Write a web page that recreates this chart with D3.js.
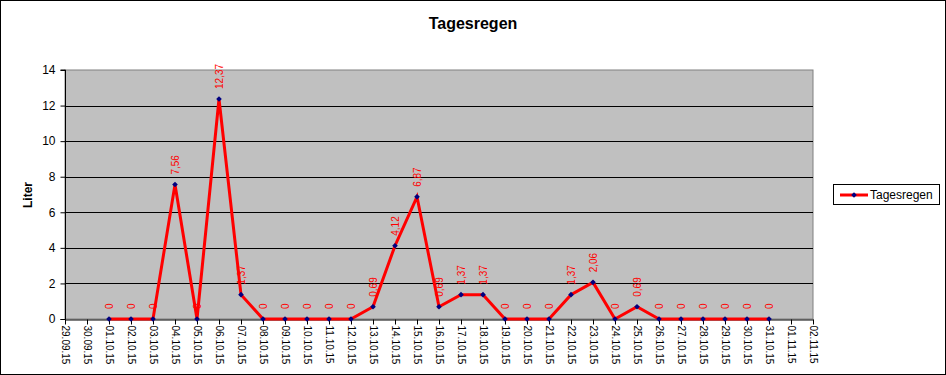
<!DOCTYPE html>
<html><head><meta charset="utf-8">
<script src="https://cdn.jsdelivr.net/npm/d3@7"></script>
<style>body{margin:0;background:#fff}svg{display:block}text{font-family:"Liberation Sans",Arial,sans-serif}</style>
</head><body><svg id="c" width="946" height="375"></svg>
<script>
const axisDates = ["29.09.15","30.09.15","01.10.15","02.10.15","03.10.15","04.10.15","05.10.15","06.10.15","07.10.15","08.10.15","09.10.15","10.10.15","11.10.15","12.10.15","13.10.15","14.10.15","15.10.15","16.10.15","17.10.15","18.10.15","19.10.15","20.10.15","21.10.15","22.10.15","23.10.15","24.10.15","25.10.15","26.10.15","27.10.15","28.10.15","29.10.15","30.10.15","31.10.15","01.11.15","02.11.15"];
const dataDates = axisDates.slice(2, 33);
const rain = [0,0,0,7.56,0,12.37,1.37,0,0,0,0,0,0.69,4.12,6.87,0.69,1.37,1.37,0,0,0,1.37,2.06,0,0.69,0,0,0,0,0,0];
const yTicks = [0,2,4,6,8,10,12,14];
const title = "Tagesregen", yTitle = "Liter", seriesName = "Tagesregen";

const svg = d3.select("#c");
svg.append("rect").attr("x",0.5).attr("y",0.5).attr("width",945).attr("height",374).attr("fill","#fff").attr("stroke","#000");
const L=65,R=813,T=70,B=319;
const x = d3.scalePoint().domain(axisDates).range([L,R]);
const y = d3.scaleLinear().domain([0,14]).range([B,T]);

svg.append("rect").attr("x",L).attr("y",T).attr("width",R-L).attr("height",B-T).attr("fill","#c0c0c0").attr("stroke","#808080");
svg.append("g").selectAll("line").data(yTicks.filter(d=>d>0&&d<14)).join("line")
  .attr("x1",L).attr("x2",R).attr("y1",d=>Math.round(y(d))+0.5).attr("y2",d=>Math.round(y(d))+0.5).attr("stroke","#000");

const ya = svg.append("g").attr("transform",`translate(${L+0.5},0)`).call(d3.axisLeft(y).tickValues(yTicks).tickSize(5).tickPadding(5).tickFormat(d=>d));
ya.selectAll("path,line").attr("stroke","#000");
ya.selectAll("text").attr("font-size",12).attr("fill","#000").attr("font-family","Liberation Sans, Arial");
ya.select(".domain").attr("d",`M-5,${B+0.5}H0V${T}H-5`);

const xa = svg.append("g").attr("transform",`translate(0,${B+0.5})`).call(d3.axisBottom(x).tickSize(5).tickSizeOuter(0));
xa.selectAll("path,line").attr("stroke","#000");
xa.selectAll("text").attr("font-size",10).attr("fill","#000").attr("font-family","Liberation Sans, Arial")
  .attr("transform","rotate(90)").attr("x",6).attr("y",0).attr("dy","0.35em").attr("text-anchor","start");

const pts = dataDates.map((d,i)=>({d,v:rain[i]}));
svg.append("path").datum(pts).attr("fill","none").attr("stroke","#ff0000").attr("stroke-width",3).attr("stroke-linejoin","miter")
  .attr("d",d3.line().x(p=>x(p.d)).y(p=>y(p.v)));
const diamond = d3.symbol().type(d3.symbolSquare).size(16);
svg.append("g").selectAll("path").data(pts).join("path").attr("d",diamond)
  .attr("transform",p=>`translate(${x(p.d)},${y(p.v)}) rotate(45)`).attr("fill","#000080");
svg.append("g").selectAll("text").data(pts).join("text")
  .attr("transform",p=>`translate(${x(p.d)},${y(p.v)-10}) rotate(-90)`)
  .attr("dy","0.35em").attr("font-size",10).attr("fill","#ff0000")
  .text(p=>String(p.v).replace(".",","));

svg.append("text").attr("x",473).attr("y",29).attr("text-anchor","middle").attr("font-size",16).attr("font-weight","bold").text(title);
svg.append("text").attr("transform","translate(32,195) rotate(-90)").attr("text-anchor","middle").attr("font-size",12).attr("font-weight","bold").text(yTitle);

const lg = svg.append("g");
lg.append("rect").attr("x",833.5).attr("y",184.5).attr("width",106).attr("height",20).attr("fill","#fff").attr("stroke","#000");
lg.append("line").attr("x1",840).attr("x2",868).attr("y1",195).attr("y2",195).attr("stroke","#ff0000").attr("stroke-width",3);
lg.append("path").attr("d",diamond).attr("transform","translate(854,195) rotate(45)").attr("fill","#000080");
lg.append("text").attr("x",870).attr("y",199).attr("font-size",12).text(seriesName);
</script></body></html>
